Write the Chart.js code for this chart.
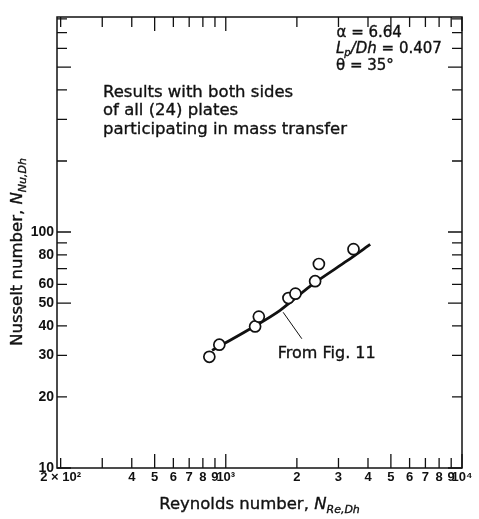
<!DOCTYPE html>
<html><head><meta charset="utf-8">
<script src="https://cdn.jsdelivr.net/npm/chart.js@4.4.1/dist/chart.umd.min.js"></script>
<style>html,body{margin:0;padding:0;background:#fff}#wrap{width:479px;height:519px}</style>
</head><body><div id="wrap"><canvas id="c" width="479" height="519"></canvas></div>
<script>
// Measured data points (Reynolds number vs Nusselt number)
const reynolds = [852, 939, 1331, 1380, 1842, 1972, 2389, 2478, 3473];
const nusselt  = [29.6, 33.3, 39.8, 43.8, 52.5, 54.8, 61.9, 73.2, 84.6];
// Curve "From Fig. 11"
const fitRe = [875, 1331, 1698, 2350, 3256, 4087];
const fitNu = [31.5, 40.0, 46.6, 60.4, 75.4, 88.7];
// Axis ticks and labels
const xTickValues = [200,300,400,500,600,700,800,900,1000,2000,3000,4000,5000,6000,7000,8000,9000,10000];
const xTickLabels = ['2 × 10²','','4','5','6','7','8','9','10³','2','3','4','5','6','7','8','9','10⁴'];
const yTickValues = [10,20,30,40,50,60,70,80,90,100,200,300,400,500,600,700,800];
const yTickLabels = ['10','20','30','40','50','60','','80','','100','','','','','','',''];

const FONT = "'DejaVu Sans', sans-serif";
const TICKFONT = "'Liberation Sans', Arial, sans-serif";

function isLong(v){
  const m = v / Math.pow(10, Math.floor(Math.log10(v) + 1e-9));
  return Math.abs(m - 1) < 1e-6 || Math.abs(m - 5) < 1e-6;
}

function drawRich(ctx, x, y, parts, align){
  let w = 0;
  parts.forEach(p => { ctx.font = p.f; w += ctx.measureText(p.t).width; });
  let cx = align === 'center' ? x - w/2 : x;
  ctx.textAlign = 'left';
  ctx.textBaseline = 'alphabetic';
  parts.forEach(p => {
    ctx.font = p.f;
    ctx.fillText(p.t, cx, y + (p.dy || 0));
    ctx.strokeText(p.t, cx, y + (p.dy || 0));
    cx += ctx.measureText(p.t).width;
  });
}

const bgPlugin = {
  id: 'bg',
  beforeDraw(chart){
    const ctx = chart.ctx;
    ctx.save(); ctx.fillStyle = '#fff'; ctx.fillRect(0,0,chart.width,chart.height); ctx.restore();
  }
};

const framePlugin = {
  id: 'frame',
  afterDraw(chart){
    const ctx = chart.ctx, a = chart.chartArea;
    const xs = chart.scales.x, ys = chart.scales.y;
    ctx.save();
    ctx.strokeStyle = '#111';
    ctx.lineWidth = 1.5;
    ctx.strokeRect(a.left, a.top, a.right - a.left, a.bottom - a.top);
    ctx.lineWidth = 1.3;
    ctx.beginPath();
    xTickValues.forEach(v => {
      const px = xs.getPixelForValue(v);
      const L = isLong(v) ? 14 : 10;
      ctx.moveTo(px, a.bottom); ctx.lineTo(px, a.bottom - L);
      ctx.moveTo(px, a.top); ctx.lineTo(px, a.top + L);
    });
    yTickValues.forEach(v => {
      const py = ys.getPixelForValue(v);
      const L = isLong(v) ? 14 : 10;
      ctx.moveTo(a.left, py); ctx.lineTo(a.left + L, py);
      ctx.moveTo(a.right, py); ctx.lineTo(a.right - L, py);
    });
    ctx.stroke();

    // Text styling (slightly heavier, like the printed original)
    ctx.fillStyle = '#111';
    ctx.strokeStyle = '#111';
    ctx.lineWidth = 0.35;

    // Axis titles
    drawRich(ctx, (a.left + a.right)/2, 509, [
      {t:'Reynolds number, ', f:'16.5px ' + FONT},
      {t:'N', f:'italic 16.5px ' + FONT},
      {t:'Re,Dh', f:'italic 11px ' + FONT, dy:4}
    ], 'center');
    ctx.save();
    ctx.translate(22, 252);
    ctx.rotate(-Math.PI/2);
    drawRich(ctx, 0, 0, [
      {t:'Nusselt number, ', f:'16.5px ' + FONT},
      {t:'N', f:'italic 16.5px ' + FONT},
      {t:'Nu,Dh', f:'italic 11px ' + FONT, dy:4}
    ], 'center');
    ctx.restore();

    // Annotations
    const t1 = ['Results with both sides', 'of all (24) plates', 'participating in mass transfer'];
    t1.forEach((s, i) => drawRich(ctx, 103, 96.5 + i*18.5, [{t:s, f:'16.5px ' + FONT}]));

    drawRich(ctx, 336.5, 36.5, [{t:'α = 6.64', f:'15px ' + FONT}]);
    drawRich(ctx, 336, 53, [
      {t:'L', f:'italic 15px ' + FONT},
      {t:'p', f:'italic 10px ' + FONT, dy:3},
      {t:'/Dh', f:'italic 15px ' + FONT},
      {t:' = 0.407', f:'15px ' + FONT}
    ]);
    drawRich(ctx, 336, 70, [{t:'θ = 35°', f:'15px ' + FONT}]);

    // "From Fig. 11" label with leader line
    drawRich(ctx, xs.getPixelForValue(1660), ys.getPixelForValue(29.2), [{t:'From Fig. 11', f:'16px ' + FONT}]);
    ctx.lineWidth = 1;
    ctx.beginPath();
    ctx.moveTo(xs.getPixelForValue(1749), ys.getPixelForValue(45.7));
    ctx.lineTo(xs.getPixelForValue(2099), ys.getPixelForValue(35.3));
    ctx.stroke();
    ctx.restore();
  }
};

new Chart(document.getElementById('c'), {
  type: 'scatter',
  data: {
    datasets: [
      {
        label: 'Data',
        data: reynolds.map((x, i) => ({x, y: nusselt[i]})),
        showLine: false,
        pointRadius: 5.5,
        pointBackgroundColor: '#fff',
        pointBorderColor: '#111',
        pointBorderWidth: 1.7,
        order: 0
      },
      {
        label: 'From Fig. 11',
        data: fitRe.map((x, i) => ({x, y: fitNu[i]})),
        showLine: true,
        pointRadius: 0,
        borderColor: '#111',
        borderWidth: 2.8,
        tension: 0.25,
        order: 1
      }
    ]
  },
  options: {
    responsive: false,
    animation: false,
    devicePixelRatio: 1,
    layout: {padding: {top: 17, right: 17, left: 0, bottom: 0}},
    plugins: {legend: {display: false}, tooltip: {enabled: false}},
    scales: {
      x: {
        type: 'logarithmic',
        min: 193, max: 10000,
        grid: {display: false, drawTicks: false},
        border: {display: false},
        afterBuildTicks: s => { s.ticks = xTickValues.map(v => ({value: v})); },
        afterFit: s => { s.height = 51; },
        ticks: {
          autoSkip: false, maxRotation: 0, minRotation: 0, padding: 2,
          color: '#111',
          font: {family: TICKFONT, size: 13, weight: 'bold'},
          callback: (v) => { const i = xTickValues.indexOf(v); return i >= 0 ? xTickLabels[i] : ''; }
        }
      },
      y: {
        type: 'logarithmic',
        min: 10, max: 815,
        grid: {display: false, drawTicks: false},
        border: {display: false},
        afterBuildTicks: s => { s.ticks = yTickValues.map(v => ({value: v})); },
        afterFit: s => { s.width = 57; },
        ticks: {
          autoSkip: false, padding: 3,
          color: '#111',
          font: {family: TICKFONT, size: 14, weight: 'bold'},
          callback: (v) => { const i = yTickValues.indexOf(v); return i >= 0 ? yTickLabels[i] : ''; }
        }
      }
    }
  },
  plugins: [bgPlugin, framePlugin]
});
</script></body></html>
